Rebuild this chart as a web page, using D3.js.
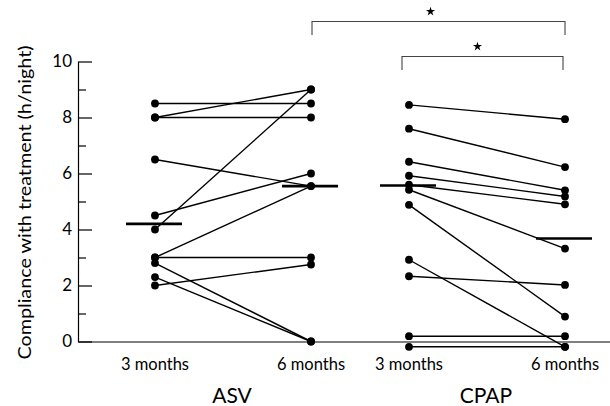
<!DOCTYPE html>
<html>
<head>
<meta charset="utf-8">
<script src="https://cdn.jsdelivr.net/npm/d3@7"></script>
<style>
  html, body { margin: 0; padding: 0; background: #fff; }
  svg { display: block; font-family: "Lato", "DejaVu Sans", sans-serif; }
</style>
</head>
<body>
<svg id="chart" width="610" height="406"></svg>
<script>
// ---- data ----
const groups = ["ASV", "CPAP"];
const timepoints = ["3 months", "6 months"];
const yTickLabels = [0, 2, 4, 6, 8, 10];
const yMinorTicks = [1, 3, 5, 7, 9];
const asv3 = [8.5, 8.0, 8.0, 6.5, 4.5, 4.0, 3.0, 3.0, 2.8, 2.3, 2.0];
const asv6 = [8.5, 9.0, 8.0, 5.55, 6.0, 9.0, 5.55, 3.0, 0, 0, 2.75];
const cpap3 = [8.45, 7.6, 6.42, 5.92, 5.6, 5.42, 4.88, 2.92, 2.33, 0.19, -0.19];
const cpap6 = [7.94, 6.23, 5.4, 5.18, 4.9, 3.32, 0.89, -0.19, 2.02, 0.19, -0.19];
const asvMedians = [4.2, 5.55];
const cpapMedians = [5.57, 3.68];
const comparisons = [
  { from: ["ASV", "6 months"], to: ["CPAP", "6 months"], label: "*" },
  { from: ["CPAP", "3 months"], to: ["CPAP", "6 months"], label: "*" }
];
const yLabel = "Compliance with treatment (h/night)";

const series = {
  ASV: { pre: asv3, post: asv6, med: asvMedians },
  CPAP: { pre: cpap3, post: cpap6, med: cpapMedians }
};

// ---- scales ----
const svg = d3.select("#chart");
const axisX = 78;
const y = d3.scaleLinear().domain([0, 10]).range([341.5, 61.5]);
const xg = d3.scaleBand().domain(groups).range([106, 614]).paddingInner(0).paddingOuter(0);
const xt = d3.scalePoint().domain(timepoints).range([0, xg.bandwidth()]).padding(0.314);
const X = (g, t) => xg(g) + xt(t);

// ---- axes ----
const yAxis = d3.axisLeft(y).tickValues(yTickLabels).tickSizeInner(-14).tickSizeOuter(0).tickPadding(6);
const gy = svg.append("g").attr("transform", `translate(${axisX},0)`).call(yAxis);
gy.select(".domain").attr("stroke", "#000").attr("stroke-width", 1.2);
gy.selectAll(".tick line").attr("stroke", "#000").attr("stroke-width", 1.2);
gy.selectAll(".tick text").attr("font-size", 17).attr("fill", "#000")
  .attr("font-family", "Lato, DejaVu Sans, sans-serif");

const yMinor = d3.axisLeft(y).tickValues(yMinorTicks).tickSizeInner(-8).tickSizeOuter(0).tickFormat("");
const gm = svg.append("g").attr("transform", `translate(${axisX},0)`).call(yMinor);
gm.select(".domain").remove();
gm.selectAll(".tick line").attr("stroke", "#000").attr("stroke-width", 1.2);

// baseline at y = 0
const xLine = d3.scaleLinear().domain([0, 1]).range([axisX, 610]);
const gx = svg.append("g").attr("transform", `translate(0,${y(0)})`)
  .call(d3.axisBottom(xLine).tickValues([]).tickSizeOuter(0));
gx.select(".domain").attr("stroke", "#000").attr("stroke-width", 1);

// axis label
svg.append("text")
  .attr("transform", `translate(31,${(y(0) + y(10)) / 2 + 1}) rotate(-90)`)
  .attr("text-anchor", "middle")
  .attr("font-size", 17)
  .attr("textLength", 314)
  .attr("lengthAdjust", "spacingAndGlyphs")
  .text(yLabel);

// time labels
groups.forEach(g => {
  timepoints.forEach(t => {
    svg.append("text")
      .attr("x", X(g, t)).attr("y", 370)
      .attr("text-anchor", "middle").attr("font-size", 16.5)
      .text(t);
  });
  svg.append("text")
    .attr("x", xg(g) + xg.bandwidth() / 2 - 1).attr("y", 403)
    .attr("text-anchor", "middle").attr("font-size", 21)
    .text(g);
});

// ---- paired lines ----
groups.forEach(g => {
  const s = series[g];
  const pairs = s.pre.map((v, i) => [v, s.post[i]]);
  svg.append("g").selectAll("line").data(pairs).join("line")
    .attr("x1", X(g, timepoints[0])).attr("x2", X(g, timepoints[1]))
    .attr("y1", d => y(d[0])).attr("y2", d => y(d[1]))
    .attr("stroke", "#000").attr("stroke-width", 1.4);
});

// medians
groups.forEach(g => {
  const s = series[g];
  svg.append("g").selectAll("line").data(timepoints).join("line")
    .attr("x1", (t) => X(g, t) - 29).attr("x2", (t) => X(g, t) + 27)
    .attr("y1", (t, i) => y(s.med[i])).attr("y2", (t, i) => y(s.med[i]))
    .attr("stroke", "#000").attr("stroke-width", 2.6);
});

// points
groups.forEach(g => {
  const s = series[g];
  [s.pre, s.post].forEach((vals, k) => {
    svg.append("g").selectAll("circle").data(vals).join("circle")
      .attr("cx", X(g, timepoints[k])).attr("cy", d => y(d))
      .attr("r", 3.9).attr("fill", "#000");
  });
});

// ---- significance brackets ----
const bracketTops = [21.5, 56.5];
const starOffsets = [-8, -5];
const leftAdjust = [1, -7];
const rightAdjust = [0, -2];
comparisons.forEach((c, i) => {
  const x1 = X(c.from[0], c.from[1]) + leftAdjust[i];
  const x2 = X(c.to[0], c.to[1]) + rightAdjust[i];
  const top = bracketTops[i];
  svg.append("path")
    .attr("d", `M${x1},${top + 13.5}V${top}H${x2}V${top + 13.5}`)
    .attr("fill", "none").attr("stroke", "#444").attr("stroke-width", 1.1);
  svg.append("path")
    .attr("d", d3.symbol(d3.symbolStar, 26)())
    .attr("transform", `translate(${(x1 + x2) / 2 + starOffsets[i]},${top - 10})`)
    .attr("fill", "#000");
});
</script>
</body>
</html>
